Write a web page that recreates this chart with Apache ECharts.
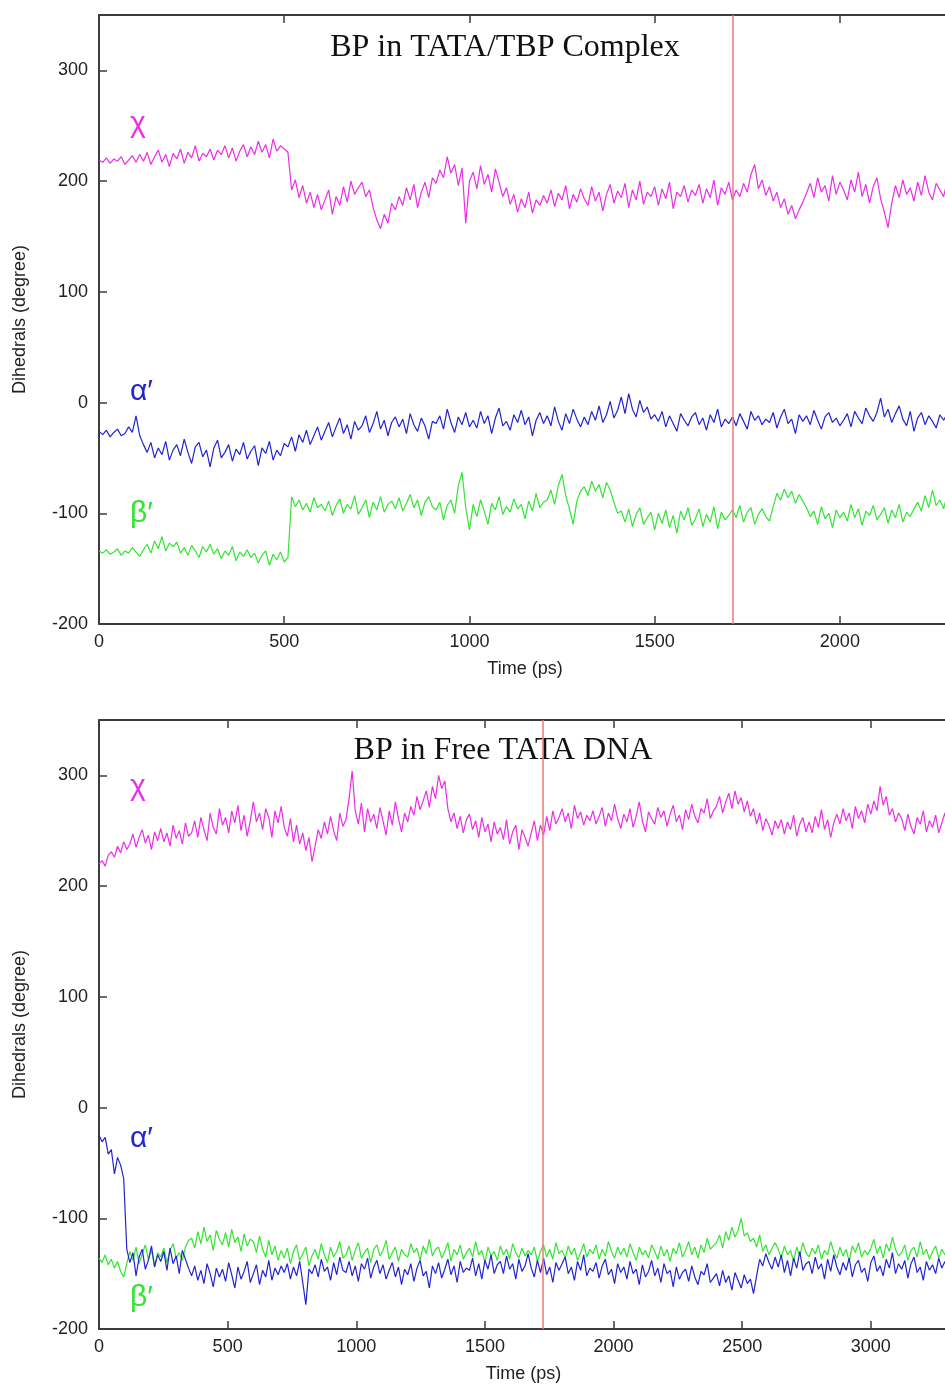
<!DOCTYPE html>
<html>
<head>
<meta charset="utf-8">
<script src="https://cdn.jsdelivr.net/npm/echarts@6/dist/echarts.min.js"></script>
<style>
  html, body { margin: 0; padding: 0; background: #ffffff; }
  #chart { width: 945px; height: 1385px; }
</style>
</head>
<body>
<div id="chart"></div>
<script>
// ---- Dihedral trajectories (degrees) ----
// TATA/TBP complex run: one sample every 10 ps, 0..2300 ps
const complexStep = 10;
const complexChi = [
  219,217,221,216,220,218,222,215,219,223,217,
  224,218,226,215,222,228,217,224,213,225,
  220,229,216,226,221,232,218,225,222,229,
  219,228,224,232,221,230,218,227,233,222,
  231,224,236,226,233,221,238,227,232,229,
  226,192,201,185,196,180,190,176,188,174,
  183,192,170,186,178,195,181,200,188,194,
  199,186,192,176,165,157,170,162,180,174,
  186,178,194,183,197,176,190,199,185,203,
  198,210,203,222,207,215,196,212,162,200,
  208,193,214,197,206,190,211,199,186,194,
  179,188,172,184,176,190,171,183,178,187,
  180,192,177,189,183,196,175,188,181,193,
  184,178,195,182,190,173,188,197,180,191,
  185,198,176,192,183,200,179,190,186,195,
  178,193,184,199,175,190,186,196,181,192,
  187,197,180,193,185,201,178,194,188,199,
  183,192,186,198,190,206,215,193,201,187,
  195,182,190,176,184,170,178,166,174,181,
  189,198,185,203,190,196,182,205,188,199,
  192,183,201,190,208,186,197,180,195,203,
  184,172,158,180,196,185,201,188,194,182,
  199,187,205,190,183,198,192,186,200,191
];
const complexAlpha = [
  -26,-29,-25,-31,-27,-24,-30,-28,-22,-27,-12,
  -30,-38,-45,-36,-50,-41,-47,-35,-52,-43,
  -38,-48,-33,-45,-55,-40,-36,-49,-43,-58,
  -41,-34,-50,-45,-38,-53,-42,-47,-36,-51,
  -44,-39,-57,-41,-46,-35,-52,-43,-48,-37,
  -40,-31,-44,-29,-36,-25,-38,-30,-22,-34,
  -26,-18,-31,-22,-14,-28,-20,-33,-17,-25,
  -21,-12,-27,-19,-8,-24,-16,-30,-18,-13,
  -22,-15,-28,-10,-20,-26,-14,-21,-33,-17,
  -19,-12,-24,-6,-18,-27,-13,-20,-9,-22,
  -16,-23,-8,-19,-12,-28,-14,-5,-21,-17,
  -25,-11,-18,-7,-20,-13,-30,-16,-9,-19,
  -12,-21,-4,-17,-25,-10,-19,-6,-15,-22,
  -13,-20,-8,-16,-3,-18,-11,1,-14,-7,
  5,-10,8,-6,-13,2,-9,-4,-15,-11,
  -17,-8,-22,-12,-19,-26,-10,-16,-21,-13,
  -9,-20,-14,-25,-11,-18,-6,-22,-15,-19,
  -13,-21,-10,-17,-24,-8,-16,-12,-20,-15,
  -18,-9,-23,-13,-6,-19,-15,-28,-11,-17,
  -12,-20,-7,-16,-24,-13,-9,-18,-14,-21,
  -16,-10,-22,-8,-14,-19,-5,-12,-17,-9,
  4,-13,-6,-18,-10,-3,-15,-21,-8,-26,
  -14,-9,-20,-12,-17,-23,-11,-16,-10,-19
];
const complexBeta = [
  -134,-136,-133,-137,-135,-132,-138,-134,-136,-131,-135,
  -139,-133,-128,-136,-125,-132,-121,-134,-127,-130,
  -126,-136,-131,-138,-129,-134,-140,-130,-135,-128,
  -137,-132,-141,-134,-138,-130,-143,-135,-139,-133,
  -140,-136,-145,-138,-134,-147,-137,-142,-135,-144,
  -140,-85,-94,-88,-97,-91,-99,-86,-95,-92,
  -98,-89,-102,-93,-87,-100,-92,-96,-84,-101,
  -95,-88,-104,-90,-97,-85,-99,-92,-89,-96,
  -86,-98,-91,-83,-95,-88,-102,-90,-85,-94,
  -97,-90,-106,-93,-88,-100,-75,-63,-95,-115,
  -92,-103,-88,-98,-110,-91,-97,-85,-101,-94,
  -99,-87,-96,-92,-105,-89,-98,-82,-95,-90,
  -88,-79,-92,-75,-65,-84,-96,-110,-89,-80,
  -76,-84,-71,-80,-74,-86,-72,-79,-90,-100,
  -98,-108,-96,-112,-101,-95,-110,-104,-99,-115,
  -100,-109,-97,-113,-102,-118,-98,-106,-95,-111,
  -105,-96,-112,-101,-108,-94,-114,-99,-106,-102,
  -97,-104,-93,-108,-99,-95,-110,-101,-96,-103,
  -107,-94,-82,-88,-78,-86,-80,-91,-83,-89,
  -95,-103,-98,-110,-94,-105,-100,-113,-97,-104,
  -99,-107,-92,-104,-96,-111,-98,-102,-93,-106,
  -101,-95,-109,-97,-104,-92,-108,-99,-103,-96,
  -90,-98,-84,-95,-79,-93,-88,-96,-83,-91
];

// Free TATA DNA run: one sample every 12 ps, 0..3300 ps
const freeStep = 12;
const freeChi = [
  220,223,218,228,231,226,236,230,240,233,
  238,247,235,244,251,239,246,233,249,241,
  252,240,248,236,255,243,250,238,257,245,
  248,259,244,262,251,241,266,253,247,270,
  255,262,248,268,257,273,250,264,245,259,
  276,258,266,251,270,262,244,268,257,272,
  253,245,261,240,255,238,248,232,244,222,
  236,251,243,258,247,263,250,241,266,254,
  260,279,304,268,256,275,249,270,258,265,
  252,271,259,246,268,255,276,261,249,266,
  258,272,264,281,269,277,286,271,290,279,
  300,288,295,270,258,266,252,263,248,260,
  265,251,259,244,262,249,256,240,258,247,
  253,242,260,238,249,255,233,251,244,236,
  248,259,241,255,246,263,250,268,256,262,
  270,258,266,252,273,261,267,255,264,259,
  268,256,263,271,254,266,259,274,261,252,
  265,258,270,253,263,276,259,249,267,261,
  256,271,262,268,254,265,273,258,264,251,
  269,260,274,263,257,270,266,279,261,268,
  272,281,266,276,284,270,286,274,280,267,
  277,263,270,256,266,250,261,255,246,259,
  252,260,247,258,251,264,245,256,262,249,
  258,248,263,253,269,251,260,244,257,265,
  256,270,259,266,252,272,261,268,257,274,
  265,277,268,290,273,281,264,270,258,266,
  261,250,265,254,247,262,256,268,249,259,
  253,264,248,257,266,251
];
const freeAlpha = [
  -25,-31,-27,-42,-38,-60,-45,-52,-64,-128,
  -140,-131,-152,-135,-128,-146,-138,-125,-144,-133,
  -139,-130,-147,-127,-141,-134,-150,-129,-137,-145,
  -152,-143,-156,-147,-159,-141,-150,-162,-145,-153,
  -146,-157,-140,-151,-163,-144,-155,-148,-139,-158,
  -150,-142,-160,-147,-153,-138,-156,-145,-151,-143,
  -149,-141,-155,-144,-152,-139,-158,-178,-146,-150,
  -142,-153,-137,-148,-144,-156,-140,-151,-135,-147,
  -149,-139,-152,-143,-157,-141,-146,-136,-154,-144,
  -138,-150,-142,-155,-147,-140,-153,-144,-160,-146,
  -151,-141,-157,-145,-138,-152,-148,-163,-143,-150,
  -140,-154,-146,-137,-151,-143,-158,-139,-149,-145,
  -147,-136,-152,-141,-155,-138,-146,-133,-150,-142,
  -139,-150,-134,-146,-141,-155,-137,-148,-143,-132,
  -145,-153,-138,-149,-136,-151,-144,-158,-140,-147,
  -141,-135,-150,-144,-156,-139,-147,-133,-152,-145,
  -148,-140,-154,-143,-137,-151,-146,-159,-141,-149,
  -144,-155,-139,-150,-146,-160,-142,-153,-148,-138,
  -152,-145,-158,-141,-150,-147,-162,-144,-155,-149,
  -146,-157,-143,-153,-160,-148,-151,-141,-158,-154,
  -150,-161,-147,-158,-152,-165,-149,-156,-163,-151,
  -159,-155,-168,-152,-137,-143,-132,-140,-146,-135,
  -144,-133,-149,-138,-152,-136,-145,-130,-147,-141,
  -139,-150,-135,-146,-141,-155,-137,-148,-133,-144,
  -151,-140,-147,-136,-153,-142,-138,-149,-145,-157,
  -140,-134,-148,-143,-152,-137,-145,-131,-150,-141,
  -146,-138,-154,-141,-135,-149,-144,-156,-139,-147,
  -142,-150,-136,-145,-139,-148
];
const freeBeta = [
  -136,-140,-133,-142,-137,-145,-139,-148,-153,-141,
  -130,-138,-126,-141,-132,-124,-137,-129,-143,-131,
  -135,-127,-140,-129,-123,-136,-131,-138,-126,-120,
  -118,-127,-112,-123,-108,-121,-115,-129,-111,-119,
  -124,-113,-126,-110,-122,-117,-130,-114,-125,-119,
  -121,-131,-116,-128,-135,-120,-133,-125,-138,-129,
  -136,-127,-141,-130,-124,-138,-132,-126,-143,-134,
  -128,-137,-123,-133,-140,-126,-135,-130,-121,-136,
  -133,-125,-138,-129,-122,-136,-131,-127,-140,-128,
  -124,-134,-129,-120,-137,-131,-126,-139,-128,-133,
  -135,-123,-131,-127,-138,-125,-132,-119,-134,-128,
  -126,-136,-130,-122,-139,-128,-133,-124,-137,-131,
  -127,-135,-121,-133,-129,-140,-126,-134,-130,-138,
  -125,-133,-128,-137,-123,-131,-136,-127,-134,-129,
  -133,-126,-139,-130,-124,-135,-128,-137,-122,-132,
  -129,-136,-125,-133,-127,-138,-131,-123,-135,-128,
  -132,-124,-137,-128,-134,-121,-130,-136,-126,-133,
  -127,-135,-123,-131,-138,-126,-133,-129,-136,-124,
  -130,-137,-125,-134,-128,-139,-127,-132,-122,-135,
  -129,-121,-133,-126,-136,-124,-131,-118,-128,-125,
  -122,-115,-127,-112,-120,-108,-117,-111,-100,-116,
  -113,-121,-118,-126,-115,-130,-124,-133,-127,-122,
  -128,-136,-125,-133,-129,-139,-126,-134,-122,-131,
  -135,-127,-132,-124,-137,-129,-133,-121,-130,-136,
  -126,-134,-128,-139,-125,-131,-122,-135,-129,-133,
  -127,-119,-132,-125,-136,-123,-130,-117,-128,-134,
  -131,-124,-138,-129,-126,-135,-121,-133,-128,-137,
  -130,-125,-136,-128,-133,-126
];

// Time of the reference frame marked in each run (ps)
const complexMarker = 1711;
const freeMarker = 1726;

// Axis ranges and tick spacing
const complexTimeMax = 2300;
const freeTimeMax = 3300;
const timeInterval = 500;
const angleMin = -200, angleMax = 350, angleInterval = 100;

const panelTitles = ['BP in TATA/TBP Complex', 'BP in Free TATA DNA'];
const seriesNames = ['\u03c7', '\u03b1\u2032', '\u03b2\u2032'];
const timeLabel = 'Time (ps)';
const angleLabel = 'Dihedrals (degree)';

// ---- styling ----
const colors = { chi: '#ea2ee6', alpha: '#2323cf', beta: '#33e433', marker: '#ee7a7a' };
const axisColor = '#3c3c3c';
const sansFont = '"Liberation Sans", Arial, sans-serif';
const serifFont = '"Liberation Serif", "Times New Roman", serif';
const plainNumber = v => String(v);

function toPoints(values, step) {
  return values.map((v, i) => [i * step, v]);
}

function bottomTimeAxis(gridIndex, max) {
  return {
    type: 'value', gridIndex, position: 'bottom', min: 0, max, interval: timeInterval,
    name: timeLabel, nameLocation: 'middle', nameGap: 36,
    nameTextStyle: { fontFamily: sansFont, fontSize: 18, color: '#222' },
    axisLine: { show: true, onZero: false, lineStyle: { color: axisColor, width: 2 } },
    axisTick: { show: true, inside: true, length: 8, lineStyle: { color: axisColor, width: 1.5 } },
    axisLabel: { show: true, showMaxLabel: false, margin: 9, formatter: plainNumber,
                 fontFamily: sansFont, fontSize: 18, color: '#222' },
    splitLine: { show: false }
  };
}
function topTimeAxis(gridIndex, max) {
  return {
    type: 'value', gridIndex, position: 'top', min: 0, max, interval: timeInterval,
    axisLine: { show: true, onZero: false, lineStyle: { color: axisColor, width: 2 } },
    axisTick: { show: true, inside: true, length: 8, lineStyle: { color: axisColor, width: 1.5 } },
    axisLabel: { show: false },
    splitLine: { show: false }
  };
}
function angleAxis(gridIndex) {
  return {
    type: 'value', gridIndex, position: 'left', min: angleMin, max: angleMax, interval: angleInterval,
    name: angleLabel, nameLocation: 'middle', nameGap: 70, nameRotate: 90,
    nameTextStyle: { fontFamily: sansFont, fontSize: 18, color: '#222' },
    axisLine: { show: true, onZero: false, lineStyle: { color: axisColor, width: 2 } },
    axisTick: { show: true, inside: true, length: 8, lineStyle: { color: axisColor, width: 1.5 } },
    axisLabel: { show: true, showMaxLabel: false, margin: 11, formatter: plainNumber,
                 fontFamily: sansFont, fontSize: 18, color: '#222' },
    splitLine: { show: false }
  };
}
function trace(name, values, step, axisIndex, color, marker) {
  const s = {
    name, type: 'line', xAxisIndex: axisIndex, yAxisIndex: axisIndex,
    data: toPoints(values, step), showSymbol: false, symbol: 'none',
    sampling: false, clip: true, silent: true,
    lineStyle: { color, width: 1.2 }, itemStyle: { color }
  };
  if (marker !== undefined) {
    s.markLine = {
      silent: true, symbol: 'none', label: { show: false },
      lineStyle: { color: colors.marker, width: 1.5, type: 'solid' },
      data: [{ xAxis: marker }]
    };
  }
  return s;
}
function textEl(x, y, text, font, fill, align) {
  return {
    type: 'text', x, y, silent: true,
    style: { text, font, fill, align: align || 'left', verticalAlign: 'middle',
             textAlign: align || 'left', textVerticalAlign: 'middle' }
  };
}

const chart = echarts.init(document.getElementById('chart'), null, { renderer: 'canvas' });
const greekFont = '30px "Liberation Sans", "DejaVu Sans", sans-serif';

chart.setOption({
  animation: false,
  backgroundColor: '#ffffff',
  grid: [
    { left: 99, top: 15, width: 852, height: 609, containLabel: false, outerBoundsMode: 'none' },
    { left: 99, top: 720, width: 849, height: 609, containLabel: false, outerBoundsMode: 'none' }
  ],
  xAxis: [
    bottomTimeAxis(0, complexTimeMax),
    bottomTimeAxis(1, freeTimeMax),
    topTimeAxis(0, complexTimeMax),
    topTimeAxis(1, freeTimeMax)
  ],
  yAxis: [angleAxis(0), angleAxis(1)],
  series: [
    trace(seriesNames[0], complexChi, complexStep, 0, colors.chi, complexMarker),
    trace(seriesNames[1], complexAlpha, complexStep, 0, colors.alpha),
    trace(seriesNames[2], complexBeta, complexStep, 0, colors.beta),
    trace(seriesNames[0], freeChi, freeStep, 1, colors.chi, freeMarker),
    trace(seriesNames[2], freeBeta, freeStep, 1, colors.beta),
    trace(seriesNames[1], freeAlpha, freeStep, 1, colors.alpha)
  ],
  graphic: [
    textEl(505, 48, panelTitles[0], '32px ' + serifFont, '#111', 'center'),
    textEl(503, 751, panelTitles[1], '32px ' + serifFont, '#111', 'center'),
    textEl(130, 124, seriesNames[0], greekFont, colors.chi),
    textEl(130, 392, seriesNames[1], greekFont, colors.alpha),
    textEl(130, 514, seriesNames[2], greekFont, colors.beta),
    textEl(130, 787, seriesNames[0], greekFont, colors.chi),
    textEl(130, 1139, seriesNames[1], greekFont, colors.alpha),
    textEl(130, 1298, seriesNames[2], greekFont, colors.beta)
  ]
});
</script>
</body>
</html>
